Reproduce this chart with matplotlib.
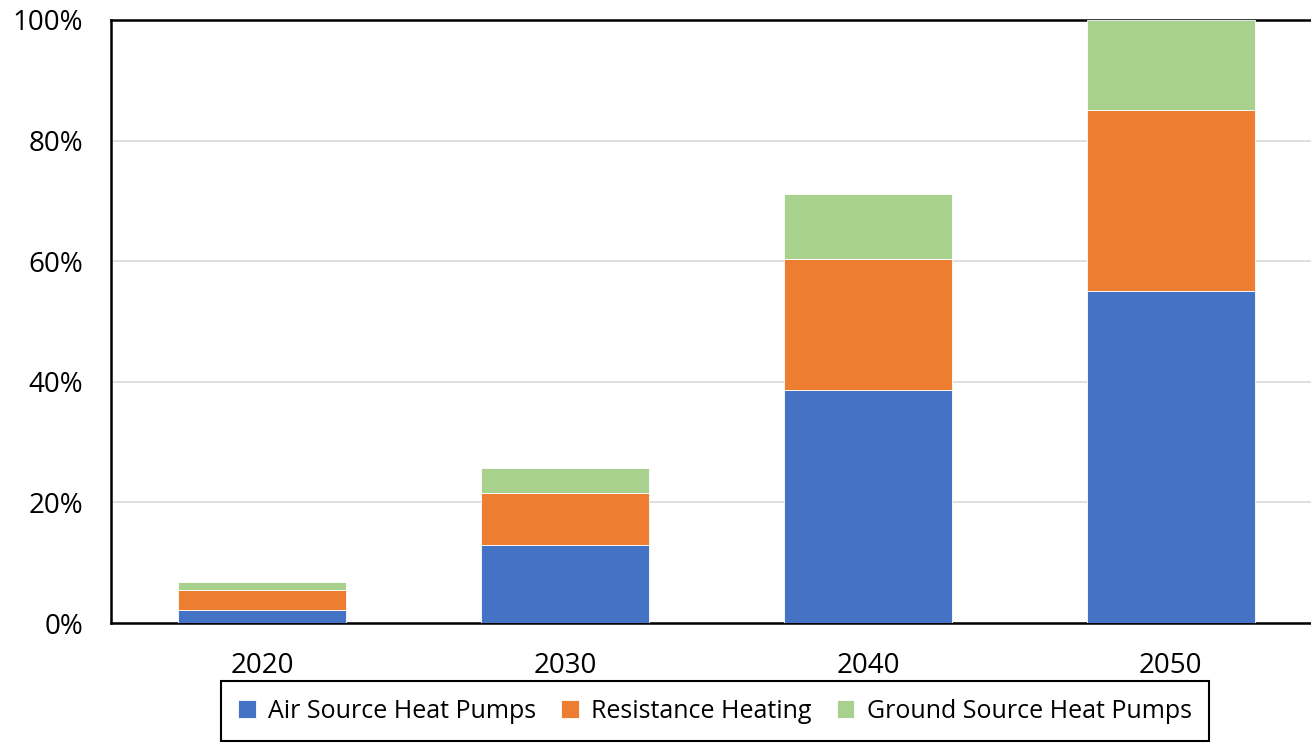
import numpy as np
import matplotlib.pyplot as plt

years = ['2020', '2030', '2040', '2050']
air_source = [2.2, 12.9, 38.6, 55.0]
resistance = [3.3, 8.7, 21.8, 30.0]
ground_source = [1.3, 4.1, 10.7, 15.0]

colors = ['#4472C4', '#ED7D31', '#A9D18E']
labels = ['Air Source Heat Pumps', 'Resistance Heating', 'Ground Source Heat Pumps']

plt.rcParams['font.family'] = ['Open Sans', 'DejaVu Sans']

fig = plt.figure(figsize=(13.11, 7.43), dpi=100)
ax = fig.add_axes([0.0847, 0.1615, 0.9237, 0.8116])

x = np.arange(len(years))
width = 0.555
bottom = np.zeros(len(years))
for vals, c, lab in zip([air_source, resistance, ground_source], colors, labels):
    ax.bar(x, vals, width, bottom=bottom, color=c, label=lab,
           edgecolor='white', linewidth=0.6, zorder=3)
    bottom += np.array(vals)

ax.set_xlim(-0.5, 3.5)
ax.set_ylim(0, 100)
ax.set_yticks([0, 20, 40, 60, 80, 100])
ax.set_yticklabels([f'{v}%' for v in [0, 20, 40, 60, 80, 100]])
ax.set_xticks(x)
ax.set_xticklabels(years)
ax.tick_params(axis='both', length=0, labelsize=20, pad=20)
ax.tick_params(axis='x', pad=21)
ax.grid(axis='y', color='#d9d9d9', linewidth=1.2, zorder=0)

for s in ['left', 'top', 'bottom']:
    ax.spines[s].set_color('black')
    ax.spines[s].set_linewidth(1.8)
ax.spines['right'].set_visible(False)

leg = fig.legend(loc='upper center', bbox_to_anchor=(0.5454, 0.0834), ncol=3,
                 fontsize=18, frameon=True, fancybox=False, framealpha=1,
                 edgecolor='black', handlelength=0.7, handleheight=0.7,
                 columnspacing=1.0, handletextpad=0.5, borderpad=0.7,
                 borderaxespad=0)
leg.get_frame().set_linewidth(1.5)

fig.savefig('out.png', dpi=100)
